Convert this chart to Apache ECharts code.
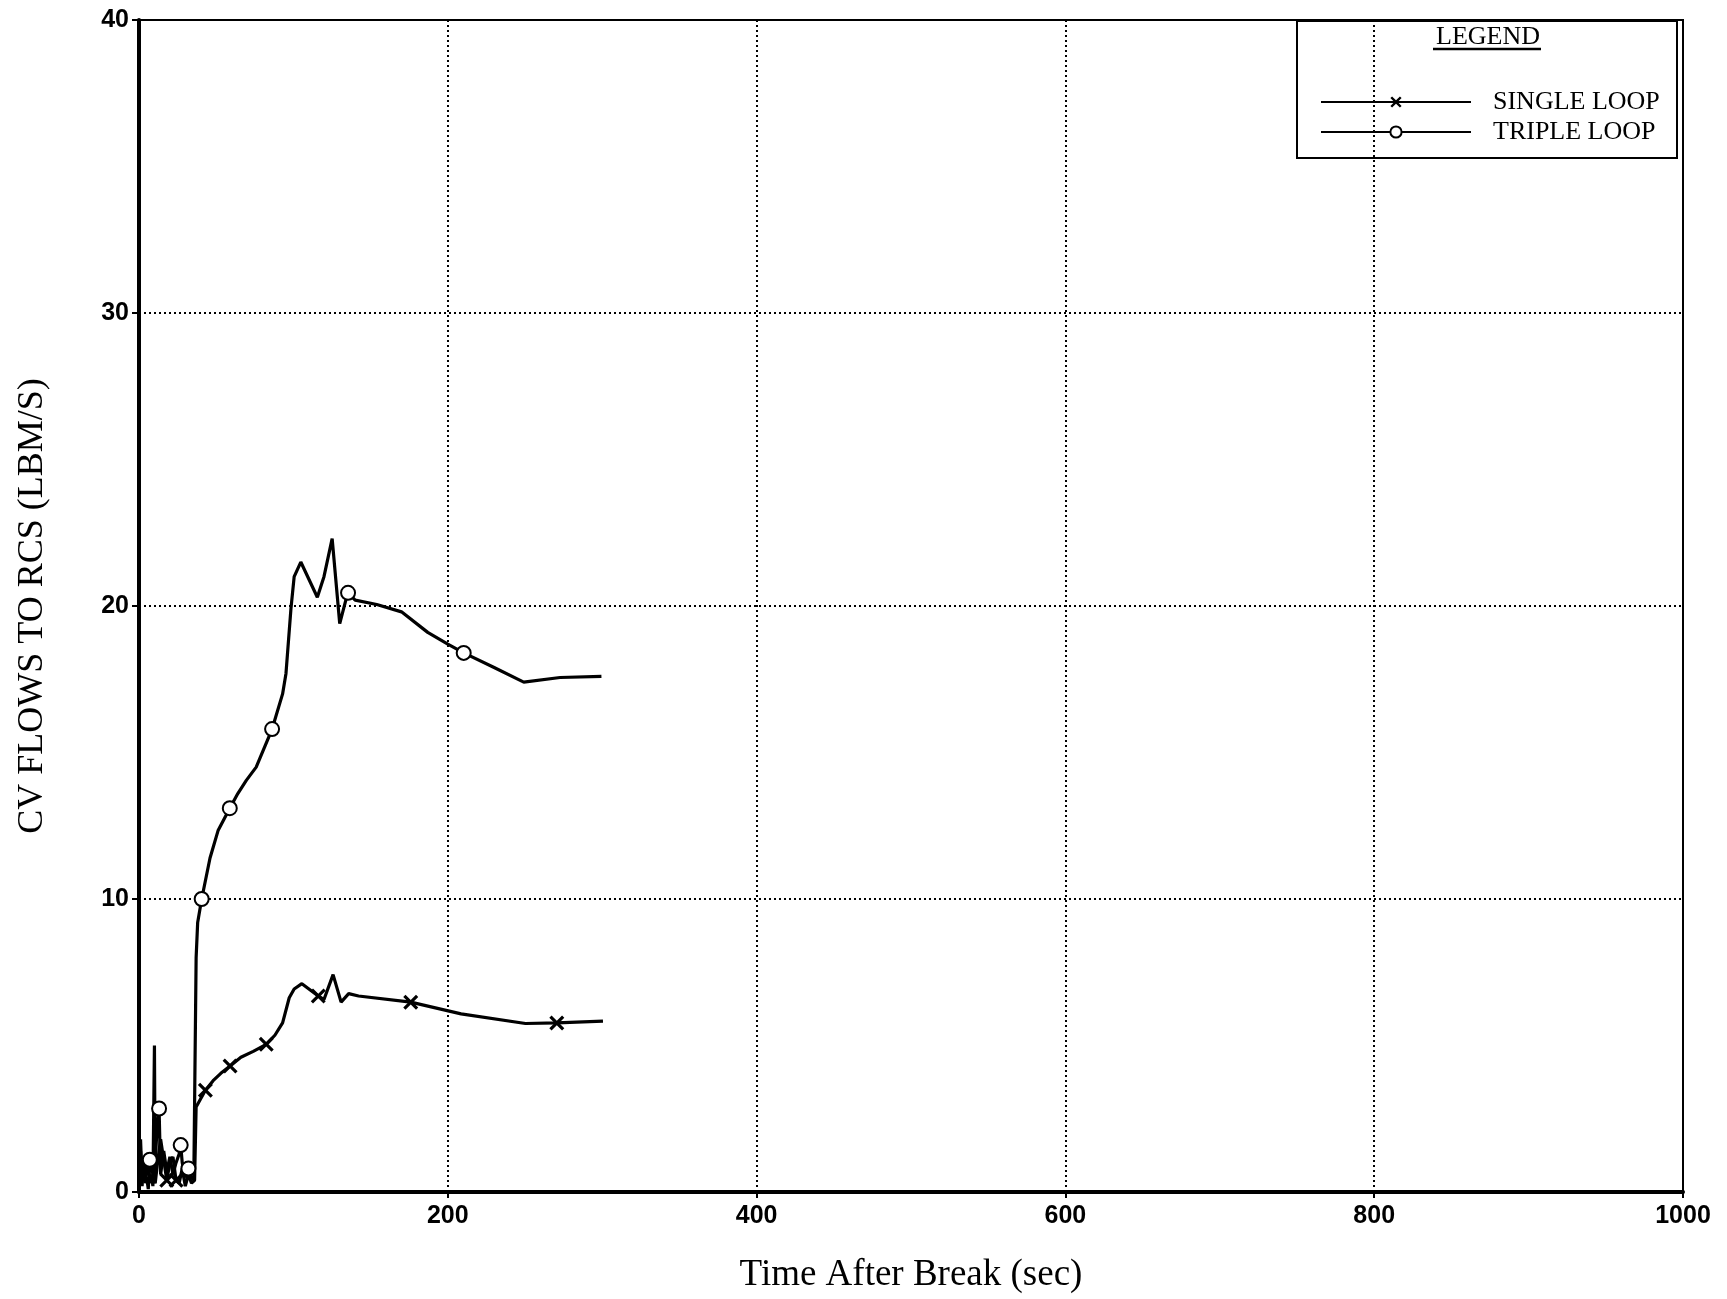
<!DOCTYPE html>
<html>
<head>
<meta charset="utf-8">
<script src="https://cdn.jsdelivr.net/npm/echarts@6/dist/echarts.min.js"></script>
<style>
html,body{margin:0;padding:0;background:#fff;}
#chart{width:1727px;height:1299px;}
</style>
</head>
<body>
<div id="chart"></div>
<script>
// ---- data ----
const xTicks = [0, 200, 400, 600, 800, 1000];
const yTicks = [0, 10, 20, 30, 40];

const tripleTime = [0,1,2,3,4,5,6,7,8,10,11,12,13,14,16,18,20,22,24,26,27,28,30,32,34,35.5,36.2,37,38,40.6,46,51.3,58.8,64,69.5,75.9,86.2,93,95.2,98.4,100.5,104.8,115.5,119.8,125.1,130,133.7,135.4,140,154,170,187,200,210.3,230,249.2,272.7,299.5];
const tripleFlow = [0,1.4,0.2,1.1,0.4,0.5,0.1,1.1,0.9,0.3,1.5,2.5,2.85,0.6,1.4,0.7,1.2,0.6,1.0,1.3,1.6,1.0,0.5,0.8,0.45,0.5,4.0,8.0,9.2,10,11.4,12.35,13.1,13.6,14.05,14.5,15.8,17.0,17.7,19.9,21.0,21.5,20.3,21.0,22.3,19.4,20.15,20.45,20.2,20.05,19.8,19.1,18.7,18.4,17.9,17.4,17.56,17.6];
const tripleMarkerTimes = [7,13,27,32,40.6,58.8,86.2,135.4,210.3];

const singleTime = [0,1,2,3,4,5,6,7,8,9,10,10.5,12,14,16,18,20,22,24,26,28,30,32,34,36,37,43,48,53,59,66,74,82.4,88,93,97.3,100.5,105.5,116.1,119.8,125.7,130.9,135.8,142.2,176,208.6,250.3,270.6,300.5];
const singleFlow = [0,1.8,0.4,1.0,0.3,0.8,1.2,0.3,0.6,0.2,5.0,0.3,1.0,1.8,1.1,0.4,1.0,1.2,0.4,0.3,0.8,0.2,0.6,0.3,0.4,2.9,3.47,3.8,4.05,4.3,4.6,4.8,5.04,5.35,5.77,6.63,6.93,7.11,6.69,6.57,7.42,6.48,6.77,6.69,6.48,6.08,5.75,5.77,5.83];
const singleMarkerTimes = [18,24,43,59,82.4,116.1,176,270.6];

const seriesNames = ['SINGLE LOOP', 'TRIPLE LOOP'];

// ---- build ----
function build(times, flows, markers) {
  return times.map((t, i) => markers.indexOf(t) >= 0 ? [t, flows[i]] : {value: [t, flows[i]], symbol: 'none'});
}
const xSym = 'path://M0,1.5L1.5,0L5,3.5L8.5,0L10,1.5L6.5,5L10,8.5L8.5,10L5,6.5L1.5,10L0,8.5L3.5,5Z';

const chart = echarts.init(document.getElementById('chart'), null, {renderer: 'canvas'});
const serif = 'Liberation Serif, Times New Roman, serif';
const numFont = 'Liberation Sans Narrow, Liberation Sans, Arial, sans-serif';

chart.setOption({
  animation: false,
  backgroundColor: '#fff',
  grid: {left: 139, right: 44, top: 20, bottom: 107, show: true, borderColor: '#000', borderWidth: 2, containLabel: false},
  xAxis: {
    type: 'value', min: 0, max: 1000, interval: 200,
    name: 'Time After Break (sec)', nameLocation: 'middle', nameGap: 65,
    nameTextStyle: {fontFamily: serif, fontSize: 37, color: '#000'},
    axisLine: {show: true, lineStyle: {color: '#000', width: 4}},
    axisTick: {show: true, length: 6, lineStyle: {color: '#000', width: 2}},
    axisLabel: {margin: 12, fontFamily: numFont, fontWeight: 'bold', fontSize: 25, color: '#000',
      formatter: v => xTicks.indexOf(v) >= 0 ? String(v) : ''},
    splitLine: {show: true, lineStyle: {color: '#000', width: 2, type: [2, 3]}}
  },
  yAxis: {
    type: 'value', min: 0, max: 40, interval: 10,
    name: 'CV FLOWS TO RCS (LBM/S)', nameLocation: 'middle', nameGap: 88, nameRotate: 90,
    nameTextStyle: {fontFamily: serif, fontSize: 36, color: '#000'},
    axisLine: {show: true, lineStyle: {color: '#000', width: 4}},
    axisTick: {show: true, length: 7, lineStyle: {color: '#000', width: 2}},
    axisLabel: {margin: 10, fontFamily: numFont, fontWeight: 'bold', fontSize: 25, color: '#000',
      formatter: v => yTicks.indexOf(v) >= 0 ? String(v) : ''},
    splitLine: {show: true, lineStyle: {color: '#000', width: 2, type: [2, 3]}}
  },
  legend: {
    orient: 'vertical', left: 1320, top: 89, padding: 0, itemWidth: 150, itemHeight: 14, itemGap: 4,
    data: seriesNames,
    textStyle: {fontFamily: serif, fontSize: 26, color: '#000', padding: [0, 0, 0, 17]}
  },
  graphic: [
    {type: 'rect', shape: {x: 1297, y: 21, width: 380, height: 137}, style: {fill: 'none', stroke: '#000', lineWidth: 2}, z: 100},
    {type: 'text', x: 1488, y: 37, style: {text: 'LEGEND', font: '26px ' + serif, fill: '#000', align: 'center', verticalAlign: 'middle'}, z: 100},
    {type: 'line', shape: {x1: 1433, y1: 49, x2: 1541, y2: 49}, style: {stroke: '#000', lineWidth: 2.5}, z: 100}
  ],
  series: [
    {
      name: seriesNames[0], type: 'line', data: build(singleTime, singleFlow, singleMarkerTimes),
      symbol: xSym, symbolSize: 15, showSymbol: true, showAllSymbol: true,
      lineStyle: {color: '#000', width: 3.2}, itemStyle: {color: '#000', borderWidth: 0},
      z: 3
    },
    {
      name: seriesNames[1], type: 'line', data: build(tripleTime, tripleFlow, tripleMarkerTimes),
      symbol: 'emptyCircle', symbolSize: 14, showSymbol: true, showAllSymbol: true,
      lineStyle: {color: '#000', width: 3.2}, itemStyle: {color: '#000', borderWidth: 2.5},
      z: 3
    }
  ]
});
</script>
</body>
</html>
